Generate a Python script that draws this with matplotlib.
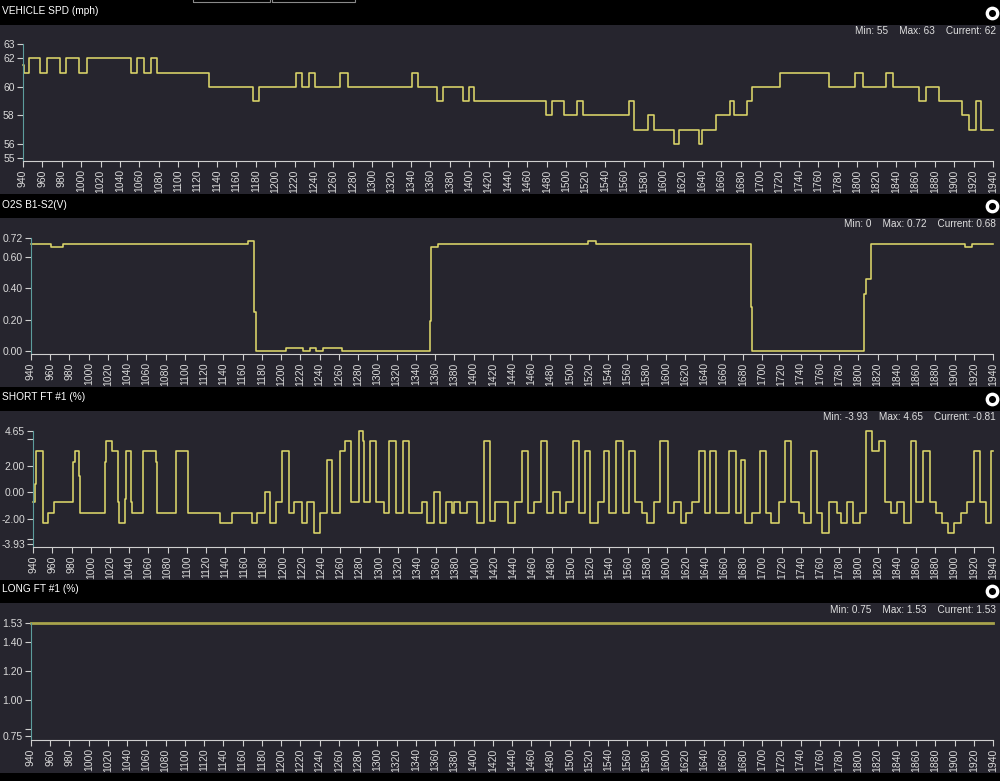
import matplotlib
matplotlib.use('Agg')
import matplotlib.pyplot as plt
from matplotlib.patches import Rectangle
from matplotlib.lines import Line2D

plt.rcParams['font.family'] = ['Liberation Sans', 'DejaVu Sans']

# ---- data (step changes: time, value) ----
spd_t = [940, 941, 946.5, 958, 965, 978, 984, 998, 1006, 1051, 1058, 1065, 1072, 1078.5,
         1132, 1177, 1183, 1221, 1228, 1235, 1241, 1267, 1275, 1341, 1347, 1366.5,
         1373.5, 1393.5, 1400, 1405, 1479, 1485, 1498, 1511, 1517, 1565, 1570, 1584,
         1590.5, 1611, 1616, 1637, 1640.5, 1654, 1669, 1673.5, 1686, 1692, 1720, 1771,
         1798, 1806, 1830, 1837, 1864, 1871, 1884, 1908, 1915, 1922, 1928, 1940]
spd_v = [61.5, 61, 62, 61, 62, 61, 62, 61, 62, 61, 62, 61, 62, 61,
         60, 59, 60, 61, 60, 61, 60, 61, 60, 61, 60, 59,
         60, 59, 60, 59, 58, 59, 58, 59, 58, 59, 57, 58,
         57, 56, 57, 56, 57, 58, 59, 58, 59, 60, 61, 60,
         61, 60, 61, 60, 59, 60, 59, 58, 57, 59, 57, 57]

o2_t = [940, 960.5, 973, 1165.6, 1172, 1174, 1204.8, 1223, 1230, 1236, 1243.5, 1263,
        1355, 1356, 1363, 1519.4, 1526.8, 1688, 1689, 1806, 1808, 1813, 1911, 1918, 1940]
o2_v = [0.68, 0.66, 0.68, 0.70, 0.25, 0.0, 0.02, 0.0, 0.02, 0.0, 0.02, 0.0,
        0.19, 0.66, 0.68, 0.70, 0.68, 0.28, 0.0, 0.36, 0.46, 0.68, 0.66, 0.68, 0.68]

sft_t = [940, 941.8, 942.8, 949.8, 955.6, 961.6, 981.7, 983.5, 987.7, 988.7, 1014.8,
         1015.8, 1021.7, 1028.6, 1029.7, 1035.6, 1036.7, 1041.9, 1043.2, 1054, 1054.7,
         1067.6, 1069.3, 1088.5, 1101.6, 1134.7, 1147.5, 1167.7, 1173.6, 1181.6, 1186.8,
         1192.8, 1199, 1206, 1211.9, 1219.9, 1225.1, 1232, 1239, 1246, 1251.2, 1259.1,
         1265, 1271, 1278.9, 1283.5, 1284.8, 1291.1, 1297.4, 1305, 1310.9, 1317.9,
         1325.2, 1331, 1345, 1350.2, 1357.1, 1363.4, 1370.3, 1376.3, 1378, 1385, 1391.9,
         1402.4, 1409.2, 1415.5, 1421.4, 1434.6, 1442.3, 1449.3, 1455.2, 1461.4, 1469.4,
         1475.3, 1481.6, 1488.5, 1495.5, 1502.4, 1509, 1515.3, 1520.5, 1528.2, 1534.4,
         1540.3, 1547.6, 1554.6, 1561.2, 1567.4, 1574.4, 1579.6, 1586.5, 1593.5, 1601.5,
         1607.4, 1614.4, 1620.3, 1626.5, 1633.5, 1639.7, 1645, 1650.9, 1664.8, 1672.4,
         1676.9, 1682.1, 1689.1, 1697.1, 1703, 1708.9, 1716.9, 1723.2, 1729.1, 1737.8,
         1743, 1749.9, 1756.2, 1762.1, 1769, 1777, 1781.2, 1787.5, 1794.4, 1801.4,
         1807.3, 1814.2, 1821.2, 1827.1, 1834, 1840.3, 1847.3, 1854.2, 1860.1, 1867.1,
         1874, 1880.3, 1887.2, 1893.1, 1899.4, 1906.3, 1913.3, 1920.3, 1926.5, 1933.1,
         1938, 1940]
sft_v = [-0.7, 0.6, 3.1, -2.3, -1.6, -0.7, 2.3, 3.1, 1.2, -1.6, 2.3,
         3.9, 3.1, -0.7, -2.3, -0.5, 3.1, -0.7, -1.6, -0.7, 3.1,
         2.3, -1.6, 3.1, -1.6, -2.3, -1.6, -2.3, -1.6, 0.0, -2.3,
         -0.7, 3.1, -1.6, -0.7, -2.3, -0.7, -3.1, -1.6, 2.4, -1.6, 3.1,
         3.9, -0.7, 4.65, 3.9, -0.7, 3.9, -0.7, -1.6, 3.9, -1.6,
         3.9, -1.6, -0.7, -2.3, 0.0, -2.3, -0.7, -1.6, -0.7, -1.6, -0.7,
         -2.3, 3.9, -2.2, -0.7, -2.3, -0.7, 3.1, -1.6, -0.7, 3.9,
         -1.6, 0.0, -1.6, -0.7, 3.9, -1.6, 3.1, -2.3, -0.7, 3.1,
         -1.6, 3.9, -1.6, 3.1, -0.7, -1.6, -2.3, -0.7, 3.9, -1.6,
         -0.7, -2.3, -1.6, -0.7, 3.1, -1.6, 3.1, -1.6, 3.1, -1.6,
         2.4, -2.3, -1.6, 3.1, -1.6, -2.3, -0.7, 3.9, -0.7, -1.6,
         -2.3, 3.1, -1.6, -3.1, -0.7, -1.6, -2.3, -0.7, -2.3, -1.6,
         4.65, 3.1, 3.9, -0.7, -1.6, -0.7, -2.3, 3.9, -0.7, 3.1,
         -0.7, -1.6, -2.3, -3.1, -2.3, -1.6, -0.7, 3.1, -0.7, -2.3,
         3.1, 3.1]

lft_t = [940, 1940]
lft_v = [1.53, 1.53]

x_ticks = list(range(940, 1941, 20))

titles = ['VEHICLE SPD (mph)', 'O2S B1-S2(V)', 'SHORT FT #1 (%)', 'LONG FT #1 (%)']
stats = ['Min: 55    Max: 63    Current: 62',
         'Min: 0    Max: 0.72    Current: 0.68',
         'Min: -3.93    Max: 4.65    Current: -0.81',
         'Min: 0.75    Max: 1.53    Current: 1.53']

BG = '#26252e'
LINE = '#dcd66a'
W, H = 1000, 781

fig = plt.figure(figsize=(10, 7.81), dpi=100, facecolor=BG)


def box(x0, y0, x1, y1, **kw):
    fig.patches.append(Rectangle((x0 / W, 1 - y1 / H), (x1 - x0) / W, (y1 - y0) / H,
                                 transform=fig.transFigure, **kw))


def panel(left, top, bottom, ylim, yticks, ylabels, t, v, color=LINE, lw=1.15):
    ax = fig.add_axes([left / W, 1 - bottom / H, (993 - left) / W, (bottom - top) / H])
    ax.set_facecolor(BG)
    ax.step(t, v, where='post', color=color, lw=lw, clip_on=False)
    ax.set_xlim(940, 1940)
    ax.set_ylim(*ylim)
    ax.set_xticks(x_ticks)
    ax.set_xticklabels([str(x) for x in x_ticks], rotation=90, fontsize=7.5)
    ax.set_yticks(yticks)
    ax.set_yticklabels(ylabels, fontsize=7.5)
    ax.tick_params(axis='both', direction='out', length=4, width=0.8, colors='#cfcfcf', pad=2)
    for tl in ax.get_xticklabels() + ax.get_yticklabels():
        tl.set_color('#dadada')
    ax.spines['top'].set_visible(False)
    ax.spines['right'].set_visible(False)
    ax.spines['left'].set_color('#5c9c9c')
    ax.spines['bottom'].set_color('#cfcfcf')
    return ax


# headers
headers = [(0, 25), (194, 218), (387, 411), (580, 603)]
for y0, y1 in headers:
    box(0, y0, W, y1, facecolor='black', edgecolor='none')
box(0, 773, W, H, facecolor='black', edgecolor='none')
box(193, -4, 270, 2, facecolor='none', edgecolor='#8a8a8a', lw=0.8)
box(272, -4, 355, 2, facecolor='none', edgecolor='#8a8a8a', lw=0.8)

title_y = [11, 205, 397, 589]
stat_y = [31, 224, 417, 610]
icon_y = [13, 206, 399, 591]
for i in range(4):
    fig.text(2 / W, 1 - title_y[i] / H, titles[i], fontsize=7.3, color='white', va='center', ha='left')
    fig.text(996 / W, 1 - stat_y[i] / H, stats[i], fontsize=7.2, color='#e0e0e0', va='center', ha='right')
    fig.add_artist(Line2D([992 / W], [1 - icon_y[i] / H], marker='o', markersize=7.5,
                          markerfacecolor='black', markeredgecolor='white', markeredgewidth=2.4,
                          transform=fig.transFigure))

panel(23, 44, 161, (54.79, 63), [55, 56, 58, 60, 62, 63],
      ['55', '56', '58', '60', '62', '63'], spd_t, spd_v)
panel(31, 237.6, 354, (-0.019, 0.72), [0, 0.2, 0.4, 0.6, 0.72],
      ['0.00', '0.20', '0.40', '0.60', '0.72'], o2_t, o2_v)
panel(33.3, 430.7, 547.3, (-4.16, 4.65), [-3.93, -3.5, -2, 0, 2, 4.0, 4.65],
      ['-3.93', '', '-2.00', '0.00', '2.00', '', '4.65'], sft_t, sft_v)
panel(31, 623.3, 740, (0.722, 1.53), [0.75, 0.8, 1.0, 1.2, 1.4, 1.53],
      ['0.75', '', '1.00', '1.20', '1.40', '1.53'], lft_t, lft_v, color='#a8a34c', lw=2)

fig.savefig('out.png', dpi=100, facecolor=BG)
